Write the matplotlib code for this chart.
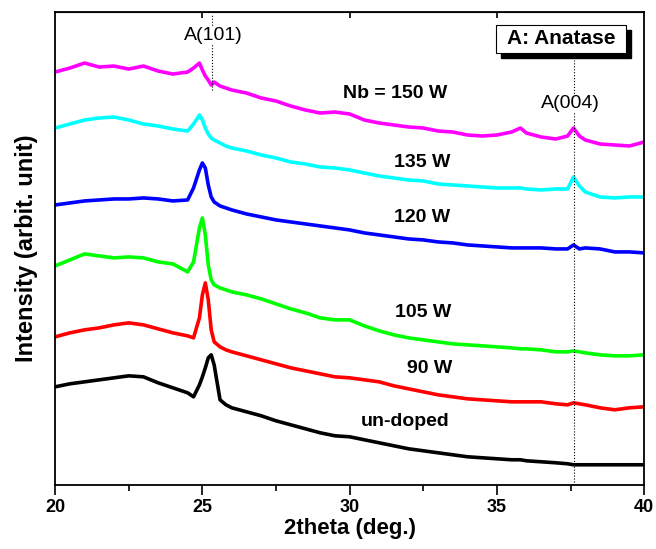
import matplotlib.pyplot as plt
from matplotlib.patches import Rectangle

plt.rcParams['font.family'] = ['Liberation Sans', 'DejaVu Sans']

# 2theta grid (deg.)
two_theta = [20, 20.5, 21, 21.5, 22, 22.5, 23, 23.5, 24, 24.5, 24.7, 24.9, 25.0, 25.1, 25.2,
             25.3, 25.4, 25.6, 25.8, 26, 26.5, 27, 27.5, 28, 28.5, 29, 29.5, 30, 30.5, 31,
             31.5, 32, 32.5, 33, 33.5, 34, 34.5, 35, 35.5, 35.8, 36, 36.5, 37, 37.4, 37.6,
             37.8, 38, 38.5, 39, 39.5, 40]

# intensity (arbit. unit), offset stacked
nb_150 = [413, 417, 422, 418, 419, 416, 419, 414, 411, 413, 417, 422, 415, 409, 405, 400, 403,
          399, 397, 395, 392, 387, 384, 379, 375, 372, 373, 371, 365, 362, 360, 358, 357, 354,
          353, 350, 349, 350, 353, 357, 352, 348, 346, 349, 357, 349, 345, 341, 340, 339, 343]
nb_135 = [357, 361, 365, 367, 368, 365, 361, 359, 356, 354, 361, 370, 365, 357, 351, 347, 345,
          342, 339, 337, 334, 330, 327, 323, 321, 318, 317, 315, 312, 309, 307, 305, 304, 301,
          300, 299, 298, 297, 297, 297, 296, 295, 296, 296, 308, 299, 293, 288, 287, 288, 288]
nb_120 = [280, 282, 284, 285, 286, 286, 287, 286, 284, 285, 297, 315, 322, 317, 300, 288, 283,
          279, 277, 275, 271, 268, 265, 263, 261, 259, 257, 255, 252, 250, 248, 246, 245, 243,
          242, 240, 239, 238, 237, 237, 237, 237, 236, 236, 240, 236, 237, 236, 233, 233, 232]
nb_105 = [219, 225, 231, 229, 227, 228, 227, 223, 221, 213, 223, 257, 267, 250, 220, 205, 200,
          197, 195, 193, 190, 186, 181, 176, 172, 167, 165, 165, 159, 154, 150, 147, 145, 143,
          141, 140, 139, 138, 137, 136, 136, 135, 133, 133, 134, 133, 132, 130, 129, 129, 130]
nb_90 = [148, 152, 155, 157, 160, 162, 160, 156, 152, 149, 147, 167, 190, 202, 185, 155, 143,
         138, 135, 133, 129, 125, 121, 117, 114, 111, 108, 107, 105, 103, 99, 96, 93, 90, 88,
         86, 85, 84, 83, 83, 83, 83, 81, 80, 82, 81, 80, 77, 75, 77, 78]
undoped = [98, 101, 103, 105, 107, 109, 108, 102, 97, 92, 88, 100, 108, 117, 127, 130, 120, 85,
           80, 77, 73, 69, 64, 60, 56, 52, 49, 48, 45, 42, 39, 36, 34, 32, 30, 28, 27, 26, 25,
           25, 24, 23, 22, 21, 20, 20, 20, 20, 20, 20, 20]

series = [nb_150, nb_135, nb_120, nb_105, nb_90, undoped]
colors = ['#FF00FF', '#00FFFF', '#0000FF', '#00FF00', '#FF0000', '#000000']
labels = ['Nb = 150 W', '135 W', '120 W', '105 W', '90 W', 'un-doped']
label_pos = [(31.55, 392), (32.46, 322), (32.46, 267), (32.5, 172), (32.73, 116), (31.88, 63)]

fig = plt.figure(figsize=(6.56, 5.49), dpi=100)
ax = fig.add_axes([0.084, 0.117, 0.898, 0.861])

for y, c in zip(series, colors):
    ax.plot(two_theta, y, color=c, lw=2.6)

for lab, (x, y) in zip(labels, label_pos):
    ax.text(x, y, lab, ha='center', va='center', fontsize=14, fontweight='bold')

# anatase reference lines
ax.plot([25.33, 25.33], [395, 470], color='k', lw=0.8, ls=':')
ax.plot([37.6, 37.6], [0, 425], color='k', lw=0.8, ls=':')
ax.text(25.36, 450, 'A(101)', ha='center', va='center', fontsize=14,
        bbox=dict(facecolor='white', edgecolor='none', pad=0.5))
ax.text(37.49, 382, 'A(004)', ha='center', va='center', fontsize=14,
        bbox=dict(facecolor='white', edgecolor='none', pad=0.5))

# "A: Anatase" box with shadow
fig.patches.append(Rectangle((0.764, 0.894), 0.198, 0.051, transform=fig.transFigure,
                             facecolor='black', edgecolor='black', zorder=5))
fig.patches.append(Rectangle((0.756, 0.9035), 0.198, 0.051, transform=fig.transFigure,
                             facecolor='white', edgecolor='black', lw=0.8, zorder=6))
fig.text(0.855, 0.929, 'A: Anatase', ha='center', va='center', fontsize=15,
         fontweight='bold', zorder=7)

ax.set_xlim(20, 40)
ax.set_ylim(0, 473)
ax.set_yticks([])
ax.set_xticks([20, 25, 30, 35, 40])
ax.set_xticks([22.5, 27.5, 32.5, 37.5], minor=True)
ax.tick_params(axis='x', which='major', direction='out', length=7, width=1.2,
               labelsize=13, pad=3)
ax.tick_params(axis='x', which='minor', direction='out', length=4, width=1.2)
for t in ax.get_xticklabels():
    t.set_fontweight('bold')
top = ax.secondary_xaxis('top')
top.set_xticks([25, 30, 35])
top.tick_params(direction='in', length=4, width=1.2, labeltop=False)
for s in ax.spines.values():
    s.set_linewidth(1.3)

ax.set_xlabel('2theta (deg.)', fontsize=16, fontweight='bold', labelpad=2)
ax.set_ylabel('Intensity (arbit. unit)', fontsize=17, fontweight='bold', labelpad=12)

fig.savefig('out.png', dpi=100)
